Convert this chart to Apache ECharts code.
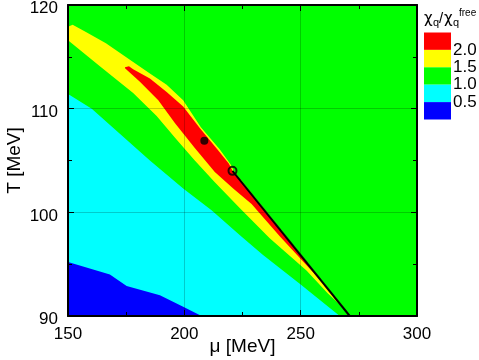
<!DOCTYPE html>
<html>
<head>
<meta charset="utf-8">
<script src="https://cdn.jsdelivr.net/npm/echarts@6/dist/echarts.min.js"></script>
<style>
html, body { margin: 0; padding: 0; background: #fff; }
#chart { width: 479px; height: 360px; }
</style>
</head>
<body>
<div id="chart"></div>
<script>
// contour levels of chi_q / chi_q^free, each region as a polygon in (mu, T)
const bgPts = [[150, 90], [300, 90], [300, 120], [150, 120]];
const cyanPts = [[150, 111.4], [150.9, 111.3], [160.2, 110.0], [185.2, 105.0], [199.5, 102.3], [211.7, 100.2],
    [223.9, 97.8], [233.7, 95.9], [249.6, 93.1], [266.8, 90], [150, 90]];
const bluePts = [[150, 95.2], [168.0, 94.0], [175.2, 92.9], [189.5, 92.0], [199.5, 90.9], [207.4, 90], [150, 90]];
const yellowPts = [[150, 117.9], [152.0, 118.1], [157.7, 117.4], [166.3, 116.3], [170.2, 115.7], [178.0, 114.5],
    [185.2, 113.4], [192.4, 112.3], [199.5, 110.8], [207.1, 108.2], [215.1, 106.1], [220.0, 104.6], [221.2, 104.0],
    [269.2, 90.6], [261.6, 92.2], [252.5, 94.4], [236.7, 97.5], [223.9, 100.4], [213.1, 102.9], [204.5, 105.0],
    [196.0, 107.2], [188.1, 109.3], [178.0, 111.5], [163.7, 114.1], [150, 116.6]];
const redPts = [[174.5, 114.0], [176.2, 114.1], [178.0, 113.8], [185.2, 112.9], [192.4, 111.6], [199.5, 110.2],
    [206.7, 108.1], [214.5, 106.0], [219.1, 104.7], [220.7, 104.0], [259.1, 93.3], [241.0, 97.7], [228.9, 100.8],
    [221.0, 102.3], [213.1, 103.9], [204.5, 106.2], [196.0, 108.6], [188.8, 110.8], [180.9, 112.6], [174.5, 113.9]];
const linePts = [[220.7, 104.0], [271.1, 90]];
const dotPts = [[208.6, 106.9]];
const circlePts = [[220.7, 104.0]];
const xTicks = [150, 200, 250, 300];
const yTicks = [90, 100, 110, 120];
const legendLabels = ['2.0', '1.5', '1.0', '0.5'];
const legendColors = ['#ff0000', '#ffff00', '#00ff00', '#00ffff', '#0000ff'];

const regions = [
    { pts: bgPts, color: '#00ff00' },
    { pts: cyanPts, color: '#00ffff' },
    { pts: bluePts, color: '#0000ff' },
    { pts: yellowPts, color: '#ffff00' },
    { pts: redPts, color: '#ff0000' }
];

const FONT = 'Liberation Sans, Arial, sans-serif';
const GREEK = 'DejaVu Sans, sans-serif';

const chart = echarts.init(document.getElementById('chart'));

const axisBase = (min, max, step) => ({
    type: 'value', min: min, max: max, interval: step,
    axisLine: { show: true, onZero: false, lineStyle: { color: '#000', width: 2 } },
    axisTick: { show: true, inside: true, length: 6, lineStyle: { color: '#000', width: 1 } },
    minorTick: { show: true, splitNumber: 2, length: 4, lineStyle: { color: '#000', width: 1 } },
    splitLine: { show: false },
    z: 10
});

const gridLine = { show: true, lineStyle: { color: 'rgba(0,0,0,0.2)', width: 1 } };

const xMain = axisBase(xTicks[0], xTicks[xTicks.length - 1], xTicks[1] - xTicks[0]);
Object.assign(xMain, {
    position: 'bottom',
    name: 'μ [MeV]', nameLocation: 'middle', nameGap: 21, nameMoveOverlap: false,
    nameTextStyle: { fontSize: 19, color: '#000', fontFamily: FONT },
    axisLabel: { fontSize: 17, color: '#000', fontFamily: FONT, margin: 10 },
    splitLine: gridLine
});
const xTop = axisBase(xTicks[0], xTicks[xTicks.length - 1], xTicks[1] - xTicks[0]);
Object.assign(xTop, { position: 'top', axisLabel: { show: false } });

const yMain = axisBase(yTicks[0], yTicks[yTicks.length - 1], yTicks[1] - yTicks[0]);
Object.assign(yMain, {
    position: 'left',
    name: 'T [MeV]', nameLocation: 'middle', nameGap: 44, nameMoveOverlap: false,
    nameTextStyle: { fontSize: 19, color: '#000', fontFamily: FONT },
    axisLabel: { fontSize: 17, color: '#000', fontFamily: FONT, margin: 10, verticalAlign: 'top', lineHeight: 7 },
    splitLine: gridLine
});
const yRight = axisBase(yTicks[0], yTicks[yTicks.length - 1], yTicks[1] - yTicks[0]);
Object.assign(yRight, { position: 'right', axisLabel: { show: false } });

// legend drawn by hand on the right
const boxTop = 32.5, boxH = 17.4, boxX = 424;
const legendGraphics = [];
legendColors.forEach((c, i) => {
    legendGraphics.push({ type: 'rect', shape: { x: boxX, y: boxTop + i * boxH, width: 27, height: boxH }, style: { fill: c } });
});
legendLabels.forEach((t, i) => {
    legendGraphics.push({
        type: 'text', x: boxX + 29, y: boxTop + (i + 1) * boxH,
        style: { text: t, font: '17px ' + FONT, fill: '#000', textVerticalAlign: 'middle', verticalAlign: 'middle' }
    });
});
const titleBits = [
    ['χ', 424, 19, 15, GREEK], ['q', 433, 23, 11, FONT], ['/', 439, 19, 15, FONT],
    ['χ', 444, 19, 15, GREEK], ['q', 453, 23, 11, FONT], ['free', 459, 13, 10, FONT]
];
titleBits.forEach(([t, x, y, fs, ff]) => {
    legendGraphics.push({
        type: 'text', x: x, y: y,
        style: { text: t, font: fs + 'px ' + ff, fill: '#000', textVerticalAlign: 'middle', verticalAlign: 'middle' }
    });
});

chart.setOption({
    animation: false,
    textStyle: { fontFamily: FONT },
    grid: { left: 68, right: 62, top: 5, bottom: 44, containLabel: false, outerBoundsMode: 'none' },
    xAxis: [xMain, xTop],
    yAxis: [yMain, yRight],
    graphic: legendGraphics,
    series: [
        {
            type: 'custom',
            clip: true,
            z: 1,
            data: regions.map((r, i) => [r.pts[0][0], r.pts[0][1], i]),
            encode: { x: 0, y: 1 },
            renderItem: (params, api) => {
                const r = regions[api.value(2)];
                return {
                    type: 'polygon',
                    shape: { points: r.pts.map(p => api.coord(p)) },
                    style: { fill: r.color }
                };
            }
        },
        {
            type: 'line', data: linePts, symbol: 'none', z: 20, clip: true,
            lineStyle: { color: '#000', width: 2 }
        },
        {
            type: 'scatter', data: dotPts, symbolSize: 8, z: 21,
            itemStyle: { color: '#000' }
        },
        {
            type: 'scatter', data: circlePts, symbolSize: 8, z: 22,
            itemStyle: { color: 'rgba(0,0,0,0)', borderColor: '#000', borderWidth: 2 }
        }
    ]
});
</script>
</body>
</html>
